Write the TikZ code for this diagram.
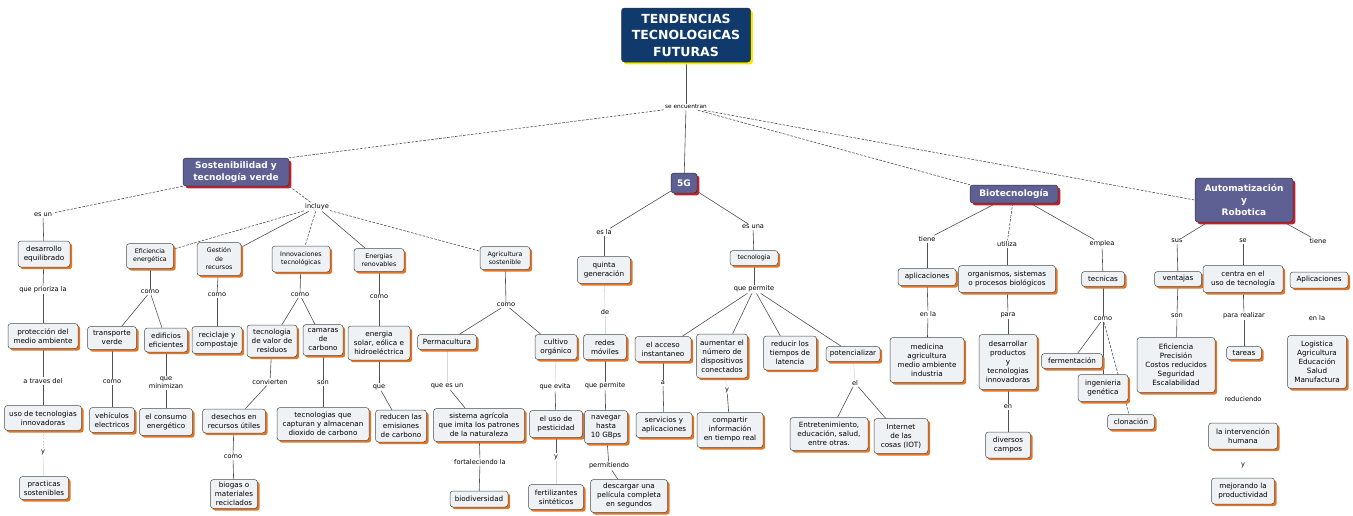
\documentclass[tikz,border=0pt]{standalone}
\usepackage{fontspec}
\setmainfont{DejaVu Sans}
\usetikzlibrary{shadows,backgrounds}
\definecolor{boxfill}{HTML}{EEF2F5}
\definecolor{boxline}{HTML}{4A4A4A}
\definecolor{shOr}{HTML}{E8731E}
\definecolor{catfill}{HTML}{5E6094}
\definecolor{shRed}{HTML}{C81E2A}
\definecolor{navy}{HTML}{103A6C}
\definecolor{shYel}{HTML}{F2EC00}
\definecolor{lnc}{HTML}{505050}
\definecolor{fnt}{HTML}{D8D8D8}
\tikzset{
 bx/.style={draw=boxline, line width=0.5pt, fill=boxfill, rounded corners=3pt, align=center, inner sep=1.5pt, font=\fontsize{7.2}{9}\selectfont, drop shadow={shadow xshift=2.2pt, shadow yshift=-2.2pt, fill=shOr, opacity=1}},
 sm/.style={font=\fontsize{6.3}{8.5}\selectfont},
 cat/.style={draw=black!80, line width=0.5pt, fill=catfill, text=white, rounded corners=3pt, align=center, inner sep=2pt, font=\bfseries\fontsize{9}{11.5}\selectfont, drop shadow={shadow xshift=2.4pt, shadow yshift=-2.4pt, fill=shRed, opacity=1}},
 ttl/.style={draw=black!80, line width=0.5pt, fill=navy, text=white, rounded corners=3pt, align=center, inner sep=2pt, font=\bfseries\fontsize{12.5}{16.5}\selectfont, drop shadow={shadow xshift=2.4pt, shadow yshift=-2.4pt, fill=shYel, opacity=1}},
 lb/.style={inner sep=1pt, align=center, font=\fontsize{6.6}{8}\selectfont},
 ln/.style={draw=lnc, line width=0.6pt},
 dl/.style={draw=lnc, line width=0.6pt, dash pattern=on 2.6pt off 1.4pt},
 fl/.style={draw=fnt, line width=0.55pt},
 sz/.style 2 args={minimum width=#1pt, minimum height=#2pt},
}
\begin{document}
\begin{tikzpicture}[x=1pt,y=-1pt]
\useasboundingbox (0,0) rectangle (1353,515);
% title and categories
\node[ttl, sz={129}{54}] (T) at (686,35) {TENDENCIAS\\TECNOLOGICAS\\FUTURAS};
\node[lb, font=\fontsize{5.8}{7}\selectfont] (L0) at (686,107) {se encuentran};
\node[cat, sz={106}{28}] (S) at (236,172) {Sostenibilidad y\\tecnología verde};
\node[cat, sz={26}{20}] (G) at (684,183) {5G};
\node[cat, sz={88}{18}] (B) at (1014,194) {Biotecnología};
\node[cat, sz={98}{44}, font=\bfseries\fontsize{9}{12}\selectfont] (A) at (1244,200) {Automatización\\y\\Robotica};
% Sostenibilidad
\node[lb] (esun) at (43,215) {es un};
\node[bx, sz={52}{26}] (des) at (44,254) {desarrollo\\equilibrado};
\node[lb] (prio) at (43,290) {que prioriza la};
\node[bx, sz={70}{25}] (prot) at (43,336) {protección del\\medio ambiente};
\node[lb] (trav) at (43,381) {a traves del};
\node[bx, sz={77}{25}] (uso) at (43,418) {uso de tecnologias\\innovadoras};
\node[lb] (y1) at (43,452) {y};
\node[bx, sz={49}{23}] (prac) at (44,488) {practicas\\sostenibles};
\node[lb] (inc) at (317,207) {incluye};
\node[bx, sm, sz={47}{25}] (efi) at (150,256) {Eficiencia\\energética};
\node[bx, sm, sz={44}{33}] (ges) at (219,259) {Gestión\\de\\recursos};
\node[bx, sm, sz={58}{26}] (inn) at (301,259) {Innovaciones\\tecnológicas};
\node[bx, sm, sz={50}{23}] (ene) at (379,260) {Energias\\renovables};
\node[bx, sm, sz={50}{23}] (agr) at (505,258) {Agricultura\\sostenible};
\node[lb] (c1) at (150,292) {como};
\node[bx, sz={49}{23}] (tra) at (112,338) {transporte\\verde};
\node[bx, sz={43}{24}] (edi) at (166,340) {edificios\\eficientes};
\node[lb] (c2) at (112,382) {como};
\node[bx, sz={45}{25}] (veh) at (112,420) {vehículos\\electricos};
\node[lb] (qm) at (166,383) {que\\minimizan};
\node[bx, sz={53}{27}] (con) at (166,422) {el consumo\\energético};
\node[lb] (c3) at (217,295) {como};
\node[bx, sz={50}{27}] (rec) at (217,340) {reciclaje y\\compostaje};
\node[lb] (c4) at (300,295) {como};
\node[bx, sz={50}{32}] (tvr) at (272,341) {tecnologia\\de valor de\\residuos};
\node[bx, sz={40}{31}] (cam) at (323,340) {camaras\\de\\carbono};
\node[lb] (conv) at (270,382) {convierten};
\node[bx, sz={63}{24}] (dese) at (234,421) {desechos en\\recursos útiles};
\node[lb] (c5) at (233,457) {como};
\node[bx, sz={47}{29}] (bio) at (234,494) {biogas o\\materiales\\reciclados};
\node[lb] (son) at (323,383) {son};
\node[bx, sz={92}{33}] (tqc) at (323,424) {tecnologias que\\capturan y almacenan\\dioxido de carbono};
\node[lb] (c6) at (379,297) {como};
\node[bx, sz={62}{34}] (esol) at (379,343) {energia\\solar, eólica e\\hidroeléctrica};
\node[lb] (que) at (379,387) {que};
\node[bx, sz={51}{32}] (red) at (401,426) {reducen las\\emisiones\\de carbono};
\node[lb] (c7) at (506,305) {como};
\node[bx, sz={59}{15}] (perm) at (447,342) {Permacultura};
\node[bx, sz={42}{25}] (cult) at (556,347) {cultivo\\orgánico};
\node[lb] (qeu) at (447,386) {que es un};
\node[bx, sz={91}{33}] (sis) at (479,425) {sistema agrícola\\que imita los patrones\\de la naturaleza};
\node[lb] (fort) at (480,462) {fortaleciendo la};
\node[bx, sz={58}{16}] (biod) at (479,499) {biodiversidad};
\node[lb] (qev) at (555,387) {que evita};
\node[bx, sz={53}{27}] (pest) at (556,424) {el uso de\\pesticidad};
\node[lb] (y2) at (556,457) {y};
\node[bx, sz={55}{25}] (fert) at (556,497) {fertilizantes\\sintéticos};
% 5G
\node[lb] (esla) at (604,232) {es la};
\node[bx, sz={53}{27}] (quin) at (604,270) {quinta\\generación};
\node[lb] (de) at (605,312) {de};
\node[bx, sz={43}{25}] (redes) at (605,347) {redes\\móviles};
\node[lb] (qp1) at (605,386) {que permite};
\node[bx, sz={43}{33}] (nav) at (606,427) {navegar\\hasta\\10 GBps};
\node[lb] (lperm) at (609,466) {permitiendo};
\node[bx, sz={77}{33}] (desc) at (629,496) {descargar una\\película completa\\en segundos};
\node[lb] (esuna) at (753,227) {es una};
\node[bx, sm, sz={48}{15}] (tec) at (754,258) {tecnologia};
\node[lb] (qp2) at (754,289) {que permite};
\node[bx, sz={56}{25}] (acc) at (663,349) {el acceso\\instantaneo};
\node[bx, sz={51}{44}] (aum) at (722,356) {aumentar el\\número de\\dispositivos\\conectados};
\node[bx, sz={53}{34}] (redu) at (790,353) {reducir los\\tiempos de\\latencia};
\node[bx, sz={54}{15}] (pot) at (853,354) {potencializar};
\node[lb] (la) at (663,383) {a};
\node[bx, sz={56}{25}] (serv) at (664,425) {servicios y\\aplicaciones};
\node[lb] (y3) at (727,390) {y};
\node[bx, sz={66}{35}] (comp) at (730,430) {compartir\\información\\en tiempo real};
\node[lb] (el) at (855,383) {el};
\node[bx, sz={78}{33}] (ent) at (829,434) {Entretenimiento,\\educación, salud,\\entre otras.};
\node[bx, sz={54}{35}] (iot) at (901,436) {Internet\\de las\\cosas (IOT)};
% Biotecnologia
\node[lb] (tiene) at (927,239) {tiene};
\node[bx, sz={58}{17}] (apl) at (927,277) {aplicaciones};
\node[lb] (enla1) at (928,314) {en la};
\node[bx, sz={74}{45}] (med) at (927,360) {medicina\\agricultura\\medio ambiente\\industria};
\node[lb] (util) at (1007,244) {utiliza};
\node[bx, sz={97}{27}] (org) at (1007,279) {organismos, sistemas\\o procesos biológicos};
\node[lb] (para) at (1008,315) {para};
\node[bx, sz={58}{55}] (desa) at (1008,362) {desarrollar\\productos\\y\\tecnologias\\innovadoras};
\node[lb] (en) at (1008,407) {en};
\node[bx, sz={45}{26}] (div) at (1008,445) {diversos\\campos};
\node[lb] (empl) at (1102,244) {emplea};
\node[bx, sz={43}{15}] (tecn) at (1103,279) {tecnicas};
\node[lb] (c8) at (1103,319) {como};
\node[bx, sz={61}{15}] (ferm) at (1072,361) {fermentación};
\node[bx, sz={50}{27}] (ing) at (1103,388) {ingenieria\\genética};
\node[bx, sz={47}{15}] (clon) at (1131,422) {clonación};
% Automatizacion
\node[lb] (sus) at (1177,241) {sus};
\node[bx, sz={47}{15}] (vent) at (1178,279) {ventajas};
\node[lb] (son2) at (1177,316) {son};
\node[bx, sz={78}{55}] (efic) at (1176,365) {Eficiencia\\Precisión\\Costos reducidos\\Seguridad\\Escalabilidad};
\node[lb] (se) at (1243,241) {se};
\node[bx, sz={80}{27}] (cen) at (1243,279) {centra en el\\uso de tecnología};
\node[lb] (prea) at (1244,316) {para realizar};
\node[bx, sz={35}{13}] (tar) at (1244,353) {tareas};
\node[lb] (tiene2) at (1318,241) {tiene};
\node[bx, sz={58}{16}] (apl2) at (1319,280) {Aplicaciones};
\node[lb] (enla2) at (1317,318) {en la};
\node[bx, sz={59}{53}] (log) at (1317,362) {Logistica\\Agricultura\\Educación\\Salud\\Manufactura};
\node[lb] (redc) at (1243,399) {reduciendo};
\node[bx, sz={69}{26}] (int) at (1243,436) {la intervención\\humana};
\node[lb] (y4) at (1243,465) {y};
\node[bx, sz={63}{26}] (mej) at (1243,491) {mejorando la\\productividad};
% connectors
\begin{scope}[on background layer]
\draw[ln] (T) -- (L0);
\draw[dl] (L0) -- (S.north east);
\draw[ln] (L0) -- (G);
\draw[dl] (L0) -- (B.north west);
\draw[dl] (L0) -- (A.west);
\draw[dl] (S.south west) -- (esun);
\draw[ln] (esun) -- (des);
\draw[ln] (des) -- (prio);
\draw[ln] (prio) -- (prot);
\draw[ln] (prot) -- (trav);
\draw[ln] (trav) -- (uso);
\draw[fl, dash pattern=on 2pt off 1.3pt] (uso) -- (y1);
\draw[fl] (y1) -- (prac);
\draw[dl] (S.south east) -- (inc);
\draw[dl] (inc) -- (efi);
\draw[ln] (inc) -- (ges);
\draw[dl] (inc) -- (inn);
\draw[ln] (inc) -- (ene);
\draw[dl] (inc) -- (agr);
\draw[ln] (efi) -- (c1);
\draw[ln] (c1) -- (tra);
\draw[ln] (c1) -- (edi);
\draw[ln] (tra) -- (c2);
\draw[ln] (c2) -- (veh);
\draw[ln] (edi) -- (qm);
\draw[ln] (qm) -- (con);
\draw[ln] (ges) -- (c3);
\draw[ln] (c3) -- (rec);
\draw[ln] (inn) -- (c4);
\draw[ln] (c4) -- (tvr);
\draw[ln] (c4) -- (cam);
\draw[ln] (tvr) -- (conv);
\draw[ln] (conv) -- (dese);
\draw[ln] (dese) -- (c5);
\draw[ln] (c5) -- (bio);
\draw[ln] (cam) -- (son);
\draw[ln] (son) -- (tqc);
\draw[ln] (ene) -- (c6);
\draw[ln] (c6) -- (esol);
\draw[ln] (esol) -- (que);
\draw[ln] (que) -- (red);
\draw[ln] (agr) -- (c7);
\draw[ln] (c7) -- (perm);
\draw[ln] (c7) -- (cult);
\draw[fl] (perm) -- (qeu);
\draw[ln] (qeu) -- (sis);
\draw[ln] (sis) -- (fort);
\draw[ln] (fort) -- (biod);
\draw[fl] (cult) -- (qev);
\draw[ln] (qev) -- (pest);
\draw[ln] (pest) -- (y2);
\draw[fl] (y2) -- (fert);
\draw[ln] (G) -- (esla);
\draw[ln] (esla) -- (quin);
\draw[fl] (quin) -- (de);
\draw[fl] (de) -- (redes);
\draw[ln] (redes) -- (qp1);
\draw[ln] (qp1) -- (nav);
\draw[ln] (nav) -- (lperm);
\draw[ln] (lperm) -- (desc);
\draw[ln] (G) -- (esuna);
\draw[ln] (esuna) -- (tec);
\draw[ln] (tec) -- (qp2);
\draw[ln] (qp2) -- (acc);
\draw[ln] (qp2) -- (aum);
\draw[ln] (qp2) -- (redu);
\draw[ln] (qp2) -- (pot);
\draw[ln] (acc) -- (la);
\draw[ln] (la) -- (serv);
\draw[fl] (aum) -- (y3);
\draw[ln] (y3) -- (comp);
\draw[fl] (pot) -- (el);
\draw[ln] (el) -- (ent);
\draw[ln] (el) -- (iot);
\draw[ln] (B) -- (tiene);
\draw[ln] (tiene) -- (apl);
\draw[ln] (apl) -- (enla1);
\draw[ln] (enla1) -- (med);
\draw[dl] (B) -- (util);
\draw[ln] (util) -- (org);
\draw[ln] (org) -- (para);
\draw[ln] (para) -- (desa);
\draw[ln] (desa) -- (en);
\draw[ln] (en) -- (div);
\draw[ln] (B) -- (empl);
\draw[ln] (empl) -- (tecn);
\draw[ln] (tecn) -- (c8);
\draw[ln] (c8) -- (ferm);
\draw[ln] (c8) -- (ing);
\draw[dl] (c8) -- (clon);
\draw[ln] (A) -- (sus);
\draw[ln] (sus) -- (vent);
\draw[ln] (vent) -- (son2);
\draw[ln] (son2) -- (efic);
\draw[ln] (se) -- (cen);
\draw[ln] (cen) -- (prea);
\draw[ln] (prea) -- (tar);
\draw[ln] (A) -- (tiene2);
\end{scope}
\end{tikzpicture}
\end{document}
